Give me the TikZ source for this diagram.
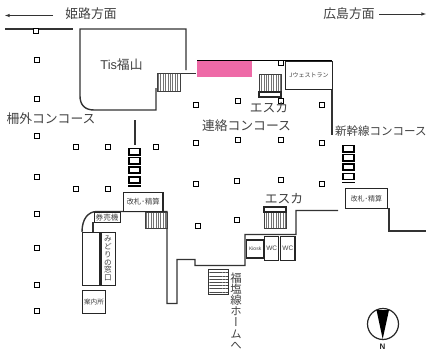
\documentclass[tikz,border=0pt]{standalone}
\usepackage{fontspec}
\setmainfont{Noto Sans CJK JP}
\newfontfamily\tatefont[RawFeature={+vert}]{Noto Sans CJK JP}
\newfontfamily\latinfont{Liberation Sans}
\usetikzlibrary{arrows,patterns.meta}
\definecolor{pinkarea}{RGB}{238,106,167}
\tikzstyle{every node}=[inner sep=0pt,text=black!75]
\tikzstyle{wall}=[draw=black!80,line width=1.4pt]
\tikzstyle{pillar}=[draw=black,line width=1.5pt,fill=white,minimum size=5pt]
\tikzstyle{room}=[draw=black!85,line width=1.4pt,fill=white]
\tikzstyle{stairv}=[draw=black!75,line width=1pt,pattern={Lines[angle=90,distance=2.4pt,line width=.7pt]},pattern color=black!55]
\tikzstyle{stairh}=[draw=black!80,line width=1pt,pattern={Lines[angle=0,distance=3.2pt,line width=.7pt]},pattern color=black!70]
\tikzstyle{escbox}=[draw=black,line width=1.7pt,fill=white]
\tikzstyle{big}=[font=\fontsize{12.8}{13}\selectfont]

\begin{document}
\begin{tikzpicture}[x=1pt,y=-1pt]
\useasboundingbox (0,0) rectangle (426,356);

% walls
\draw[wall] (5,29) -- (73,29);
\draw[wall] (186,70) -- (186,29) -- (80,29) -- (80,96) .. controls (80,105) and (85,110) .. (94,110)
	-- (156,110) -- (156,88);
\draw[wall] (157,73.5) -- (196,73.5);
\draw[wall] (135,120) -- (135,145);
\draw[wall] (82,232) .. controls (82,219) and (88,211.5) .. (97,211.5) -- (167,211.5) -- (167,303.5)
	-- (177,303.5) -- (177,259.5) -- (195,259.5) -- (195,265.5) -- (245,265.5) -- (245,234.5)
	-- (296,234.5) -- (296,210.5) -- (338,210.5);
\draw[wall] (389,208) -- (389,231) -- (426,231);
\draw[wall] (332,89) -- (332,135);
\draw[line width=1.3pt] (197,60.5) -- (332,60.5);

% pink area
\fill[fill=pinkarea] (197,61) rectangle (252,77);

% stairs
\draw[stairv] (157,73) rectangle (180,91);
\draw[stairv] (259,74) rectangle (281,91);
\draw[room,line width=1.1pt] (259,92) rectangle (281,97);
\draw[stairv] (145,212) rectangle (167,228);
\draw[stairv] (264,212) rectangle (286,228);
\draw[room,line width=1.1pt] (264,207) rectangle (286,212);
\draw[stairh] (208,269.5) rectangle (228,294);

% escalators
\draw[escbox] (129,148.5) rectangle (140,155);
\draw[escbox] (129,157.5) rectangle (140,164);
\draw[escbox] (129,167) rectangle (140,173);
\draw[escbox] (129,177) rectangle (140,183);
\draw[black,line width=1.2pt] (128,186) -- (141,186);
\draw[escbox] (343,145.5) rectangle (354,152);
\draw[escbox] (343,154.5) rectangle (354,161);
\draw[escbox] (343,164) rectangle (354,170);
\draw[escbox] (343,173.5) rectangle (354,179.5);
\draw[black,line width=1.2pt] (342,182.5) -- (355,182.5);

% rooms
\node[room,minimum width=47.5pt,minimum height=28.5pt,anchor=north west,font=\fontsize{6}{6}\selectfont] (jwest) at (284.5,60.5) {Jウェストラン};
\node[room,minimum width=39.5pt,minimum height=19pt,anchor=north west,font=\fontsize{7.4}{8}\selectfont] (gate1) at (122.7,191.7) {改札･精算};
\node[room,minimum width=41.5pt,minimum height=20pt,anchor=north west,font=\fontsize{7}{8}\selectfont] (gate2) at (345,188) {改札･精算};
\node[room,line width=1.1pt,minimum width=26pt,minimum height=10pt,anchor=north west,font=\fontsize{7.6}{8}\selectfont] (ticket) at (93.5,212) {券売機};
\draw[wall] (93,222) -- (93,232);
\node[room,minimum width=17.3pt,minimum height=53.5pt,anchor=north west] (office) at (81.8,231.5) {};
\node[room,minimum width=14.5pt,minimum height=53.5pt,anchor=north west] (midori) at (100.5,231.5) {};
\node[font=\fontsize{7.6}{7.9}\selectfont,align=center] (midorilabel) at (108,258.5) {み\\ど\\り\\の\\窓\\口};
\node[room,minimum width=23pt,minimum height=22.7pt,anchor=north west,font=\fontsize{6.6}{7}\selectfont] (info) at (81.8,290) {案内所};
\node[room,line width=1.6pt,minimum width=17.3pt,minimum height=18pt,anchor=north west,font=\latinfont\fontsize{5}{6}\selectfont] (kiosk) at (245.7,239) {Kiosk};
\node[room,minimum width=14pt,minimum height=24pt,anchor=north west,font=\latinfont\fontsize{6.5}{7}\selectfont] (wca) at (264,236) {WC};
\node[room,minimum width=14.3pt,minimum height=24pt,anchor=north west,font=\latinfont\fontsize{6.5}{7}\selectfont] (wcb) at (280,236) {WC};

% pillars
\node[pillar] (p1) at (36,31) {};
\node[pillar] (p2) at (37,60) {};
\node[pillar] (p3) at (37,99) {};
\node[pillar] (p4) at (37,136) {};
\node[pillar] (p5) at (37,177) {};
\node[pillar] (p6) at (37,214) {};
\node[pillar] (p7) at (37,248) {};
\node[pillar] (p8) at (37,285) {};
\node[pillar] (p9) at (37,311) {};
\node[pillar] (p10) at (76,147) {};
\node[pillar] (p11) at (108,147) {};
\node[pillar] (p12) at (156,147) {};
\node[pillar] (p13) at (76,189) {};
\node[pillar] (p14) at (108,189) {};
\node[pillar] (p15) at (196,105) {};
\node[pillar] (p16) at (196,143) {};
\node[pillar] (p17) at (196,184) {};
\node[pillar] (p18) at (198,226) {};
\node[pillar] (p19) at (238,101) {};
\node[pillar] (p20) at (238,140) {};
\node[pillar] (p21) at (237,181) {};
\node[pillar] (p22) at (237,220) {};
\node[pillar] (p23) at (281,63) {};
\node[pillar] (p24) at (281,101) {};
\node[pillar] (p25) at (281,140) {};
\node[pillar] (p26) at (281,180) {};
\node[pillar] (p27) at (322,105) {};
\node[pillar] (p28) at (322,143) {};
\node[pillar] (p29) at (322,184) {};

% labels
\node[big] (himeji) at (91,14) {姫路方面};
\node[big] (hiroshima) at (349,14) {広島方面};
\coordinate (himejiend) at (5,15.5);
\coordinate (hiroshimaend) at (426,14);
\draw[-latex,black!80,line width=.6pt] (53,15.5) -- (himejiend);
\draw[-latex,black!80,line width=.6pt] (379,14) -- (hiroshimaend);
\node[big] (tis) at (121.5,65) {{\latinfont Tis}福山};
\node[big] (sakugai) at (51,119) {柵外コンコース};
\node[big] (renraku) at (246.5,126) {連絡コンコース};
\node[big] (esca1) at (269,108) {エスカ};
\node[big] (esca2) at (284,199) {エスカ};
\node[font=\fontsize{11.5}{12}\selectfont,anchor=west] (shinkansen) at (335,131) {新幹線コンコース};
\node[font=\tatefont\fontsize{11.4}{11.2}\selectfont,align=center] (fukuen) at (236,311) {福\\塩\\線\\ホ\\ー\\ム\\へ};

% compass
\draw[black!85,line width=1.2pt,fill=white] (383,324) circle (15.5);
\fill[black] (376.5,310) -- (389,310) -- (382.7,339) -- cycle;
\node[font=\latinfont\bfseries\fontsize{8}{8}\selectfont,text=black!85] (north) at (382.5,346.5) {N};
\end{tikzpicture}
\end{document}
